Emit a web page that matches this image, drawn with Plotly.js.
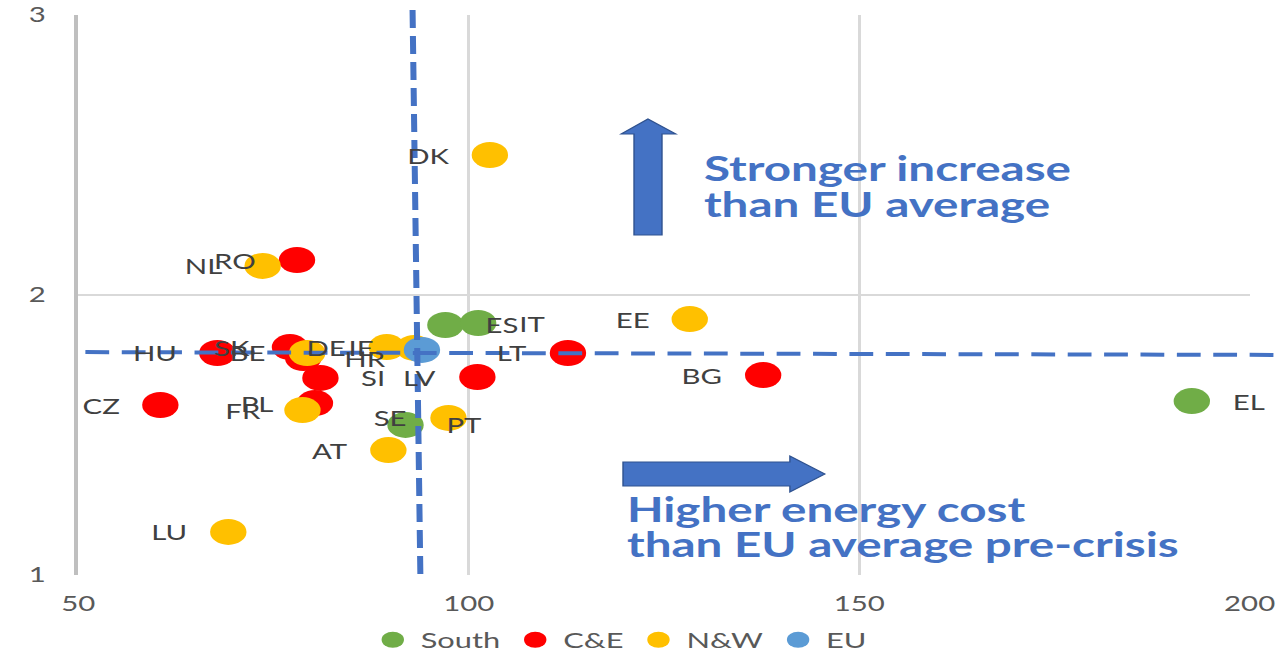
<!DOCTYPE html>
<html>
<head>
<meta charset="utf-8">
<script src="https://cdn.plot.ly/plotly-3.0.1.min.js"></script>
<style>
  html, body { margin: 0; padding: 0; background: #ffffff; overflow: hidden; }
  #wrap { width: 1286px; height: 655px; overflow: hidden; }
  #chart { height: 655px; transform-origin: 0 0; }
</style>
</head>
<body>
<div id="wrap"><div id="chart"></div></div>
<script>
// Energy cost level pre-crisis (EU = 100) vs. increase factor, by country group
const southCodes = ['ES', 'IT', 'EL', 'PT'];
const southCost  = [97.0, 101.2, 192.6, 91.9];
const southRise  = [1.893, 1.900, 1.621, 1.536];

const ceCodes = ['RO', 'HU', 'SK', 'HR', 'SI', 'CZ', 'PL', 'LT', 'LV', 'BG'];
const ceCost  = [78.0, 67.8, 77.1, 78.8, 81.0, 60.5, 80.3, 112.7, 101.1, 137.7];
const ceRise  = [2.125, 1.793, 1.814, 1.775, 1.704, 1.607, 1.614, 1.793, 1.707, 1.714];

const nwCodes = ['DK', 'NL', 'EE', 'BE', 'DE', 'IE', 'FR', 'SE', 'AT', 'LU'];
const nwCost  = [102.7, 73.6, 128.3, 79.3, 89.5, 93.0, 78.7, 97.4, 89.7, 69.2];
const nwRise  = [2.500, 2.104, 1.914, 1.793, 1.814, 1.811, 1.589, 1.561, 1.446, 1.154];

const euCost = [94.0];
const euRise = [1.804];

// EU average guide lines (ends of each dashed line)
const avgCostEnds = [92.8, 93.8];   // top, bottom
const avgRiseEnds = [1.796, 1.786]; // left, right

const groupNames = ['South', 'C&E', 'N&W', 'EU'];
const xTicks = [50, 100, 150, 200];
const yTicks = [1, 2, 3];

// codes whose labels sit to the right of the marker
const rightLabelled = ['ES', 'IT', 'EL', 'PT', 'HR', 'SI'];

const COLORS = { South: '#70AD47', 'C&E': '#FF0000', 'N&W': '#FFC000', EU: '#5B9BD5' };
const GUIDE = '#4472C4';
const FONT = 'Lato, "Open Sans", sans-serif';

// the whole figure is drawn narrow and widened horizontally
const STRETCH = 1.4;
const PAGE_W = 1286, PAGE_H = 655;
const W = Math.round(PAGE_W / STRETCH);
const chartDiv = document.getElementById('chart');
chartDiv.style.width = W + 'px';
chartDiv.style.transform = 'scaleX(' + (PAGE_W / W) + ')';

const X_RANGE = [50, 200], Y_RANGE = [1, 3];
const px = v => (v - X_RANGE[0]) / (X_RANGE[1] - X_RANGE[0]);
const py = v => (v - Y_RANGE[0]) / (Y_RANGE[1] - Y_RANGE[0]);

function group(name, xs, ys) {
  return {
    type: 'scatter', mode: 'markers', name: name,
    x: xs, y: ys, cliponaxis: false,
    marker: { size: 26, color: COLORS[name], line: { width: 0 } },
    hoverinfo: 'skip'
  };
}

const data = [
  group(groupNames[0], southCost, southRise),
  group(groupNames[1], ceCost, ceRise),
  group(groupNames[2], nwCost, nwRise),
  group(groupNames[3], euCost, euRise)
];

// country code labels
const annotations = [];
[[southCodes, southCost, southRise], [ceCodes, ceCost, ceRise], [nwCodes, nwCost, nwRise]]
  .forEach(([codes, xs, ys]) => {
    codes.forEach((c, i) => {
      const right = rightLabelled.includes(c);
      annotations.push({
        x: xs[i], y: ys[i], xref: 'x', yref: 'y', text: c, showarrow: false,
        xanchor: right ? 'left' : 'right', yanchor: 'middle',
        xshift: right ? 27 : -27,
        font: { family: FONT, size: 21, color: '#404040' }
      });
    });
  });

// callout texts
const calloutFont = { family: FONT, size: 34, color: GUIDE };
[
  ['Stronger increase', 0.532, 0.727],
  ['than EU average', 0.532, 0.664],
  ['Higher energy cost', 0.466, 0.119],
  ['than EU average pre-crisis', 0.466, 0.056]
].forEach(([t, x, y]) => annotations.push({
  xref: 'paper', yref: 'paper', x: x, y: y, text: '<b>' + t + '</b>',
  showarrow: false, xanchor: 'left', yanchor: 'middle', font: calloutFont
}));

const shapes = [
  // vertical average line
  {
    type: 'line', xref: 'paper', yref: 'paper', layer: 'above',
    x0: px(avgCostEnds[0]), y0: 1.009, x1: px(avgCostEnds[1]), y1: 0.0,
    line: { color: GUIDE, width: 4.3, dash: '18px,8px' }
  },
  // horizontal average line
  {
    type: 'line', xref: 'paper', yref: 'paper', layer: 'above',
    x0: 0.006, y0: py(avgRiseEnds[0]), x1: 1.027, y1: py(avgRiseEnds[1]),
    line: { color: GUIDE, width: 4, dash: '17px,9px' }
  },
  // upward block arrow
  {
    type: 'path', xref: 'paper', yref: 'paper', layer: 'above',
    path: 'M 0.4744 0.6071 L 0.4744 0.7875 L 0.4633 0.7875 L 0.4863 0.8143 ' +
          'L 0.5102 0.7875 L 0.4983 0.7875 L 0.4983 0.6071 Z',
    fillcolor: GUIDE, line: { color: '#2F528F', width: 1 }
  },
  // rightward block arrow
  {
    type: 'path', xref: 'paper', yref: 'paper', layer: 'above',
    path: 'M 0.4650 0.1590 L 0.6075 0.1590 L 0.6075 0.1482 L 0.6374 0.1804 ' +
          'L 0.6075 0.2125 L 0.6075 0.2018 L 0.4650 0.2018 Z',
    fillcolor: GUIDE, line: { color: '#2F528F', width: 1 }
  }
];

const layout = {
  width: W, height: PAGE_H,
  margin: { l: 56, r: W - Math.round(1250 / STRETCH), t: 15, b: 80, pad: 0, autoexpand: false },
  paper_bgcolor: '#ffffff', plot_bgcolor: '#ffffff',
  font: { family: FONT, color: '#595959' },
  showlegend: true,
  legend: {
    orientation: 'h', x: 0.462, xanchor: 'center',
    yref: 'container', y: 0.023, yanchor: 'middle',
    font: { family: FONT, size: 22, color: '#595959' },
    itemsizing: 'trace', bgcolor: 'rgba(0,0,0,0)', itemwidth: 30
  },
  xaxis: {
    range: X_RANGE, tickvals: xTicks, ticktext: xTicks.map(String),
    showgrid: true, gridcolor: '#d9d9d9', gridwidth: 2,
    zeroline: false, showline: false, ticks: '',
    ticklabelstandoff: 14, automargin: false,
    tickfont: { family: FONT, size: 21, color: '#595959' }, fixedrange: true
  },
  yaxis: {
    range: Y_RANGE, tickvals: yTicks, ticktext: yTicks.map(String),
    showgrid: true, gridcolor: '#d9d9d9', gridwidth: 2,
    zeroline: false, showline: true, linecolor: '#bfbfbf', linewidth: 3,
    ticks: '', ticklabelstandoff: 16, automargin: false,
    tickfont: { family: FONT, size: 21, color: '#595959' }, fixedrange: true
  },
  shapes: shapes,
  annotations: annotations,
  hovermode: false
};

Plotly.newPlot(chartDiv, data, layout, { displayModeBar: false, staticPlot: true });
</script>
</body>
</html>
